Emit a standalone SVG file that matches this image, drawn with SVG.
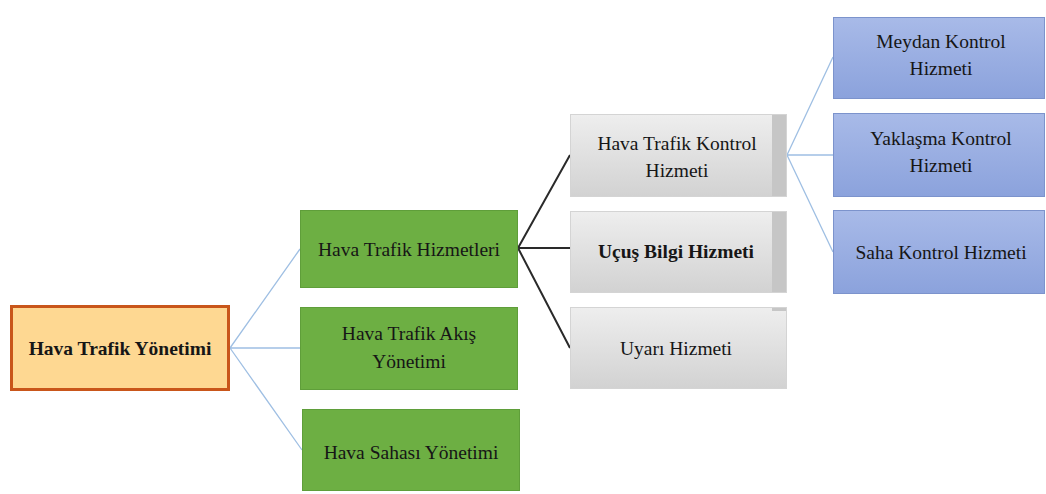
<svg xmlns="http://www.w3.org/2000/svg" width="1046" height="494" viewBox="0 0 1046 494">
<style>
text{font-size:19.5px;fill:#161616;text-anchor:middle}
.b{font-weight:bold}
.org{fill:#fed892;stroke:#c9561a;stroke-width:3}
.grn{fill:#6daf43;stroke:#5f9e3a;stroke-width:1}
.gry{fill:url(#gg);stroke:#d4d4d4;stroke-width:1}
.strip{fill:#c6c6c6}
.blu{fill:url(#bg);stroke:#7c93cc;stroke-width:1}
.lb{stroke:#9fbfe3;stroke-width:1.3;fill:none}
.dk{stroke:#2a2a2a;stroke-width:2;fill:none}
</style>
<defs>
<linearGradient id="gg" x1="0" y1="0" x2="0" y2="1">
<stop offset="0" stop-color="#eeeeee"/>
<stop offset="1" stop-color="#d2d2d2"/>
</linearGradient>
<linearGradient id="bg" x1="0" y1="0" x2="0" y2="1">
<stop offset="0" stop-color="#a8bae8"/>
<stop offset="1" stop-color="#8ba2dc"/>
</linearGradient>
</defs>
<rect width="1046" height="494" fill="#ffffff"/>
<g id="connectors">
<path class="lb" d="M230 348 L300 249 M230 348 L300 348 M230 348 L302 450"/>
<path class="dk" d="M518 248 L570 155 M518 248 L570 248 M518 248 L570 348"/>
<path class="lb" d="M787 155 L833 57 M787 155 L833 155 M787 155 L833 252"/>
</g>
<g id="n-hty">
<rect class="org" x="11.5" y="306.5" width="217" height="83"/>
<text class="b" font-family="Liberation Serif" x="120" y="355">Hava Trafik Yönetimi</text>
</g>
<g id="n-hth">
<rect class="grn" x="300.5" y="210.5" width="217" height="77"/>
<text font-family="Liberation Serif" x="409" y="256">Hava Trafik Hizmetleri</text>
</g>
<g id="n-htay">
<rect class="grn" x="300.5" y="307.5" width="217" height="82"/>
<text font-family="Liberation Serif" x="409" y="340">Hava Trafik Akış</text>
<text font-family="Liberation Serif" x="409" y="368">Yönetimi</text>
</g>
<g id="n-hsy">
<rect class="grn" x="302.5" y="409.5" width="217" height="81"/>
<text font-family="Liberation Serif" x="411" y="459">Hava Sahası Yönetimi</text>
</g>
<g id="n-htkh">
<rect class="gry" x="570.5" y="114.5" width="216" height="82"/>
<rect class="strip" x="772" y="115" width="14" height="81"/>
<text font-family="Liberation Serif" x="677" y="150">Hava Trafik Kontrol</text>
<text font-family="Liberation Serif" x="677" y="177">Hizmeti</text>
</g>
<g id="n-ubh">
<rect class="gry" x="570.5" y="211.5" width="216" height="81"/>
<rect class="strip" x="772" y="212" width="14" height="80"/>
<text class="b" font-family="Liberation Serif" x="676" y="258">Uçuş Bilgi Hizmeti</text>
</g>
<g id="n-uh">
<rect class="gry" x="570.5" y="307.5" width="216" height="81"/>
<rect class="strip" x="772" y="308" width="14" height="3"/>
<text font-family="Liberation Serif" x="676" y="355">Uyarı Hizmeti</text>
</g>
<g id="n-mkh">
<rect class="blu" x="833.5" y="17.5" width="211" height="81"/>
<text font-family="Liberation Serif" x="941" y="48">Meydan Kontrol</text>
<text font-family="Liberation Serif" x="941" y="75">Hizmeti</text>
</g>
<g id="n-ykh">
<rect class="blu" x="833.5" y="113.5" width="211" height="83"/>
<text font-family="Liberation Serif" x="941" y="145">Yaklaşma Kontrol</text>
<text font-family="Liberation Serif" x="941" y="172">Hizmeti</text>
</g>
<g id="n-skh">
<rect class="blu" x="833.5" y="210.5" width="211" height="83"/>
<text font-family="Liberation Serif" x="941" y="259">Saha Kontrol Hizmeti</text>
</g>
</svg>
